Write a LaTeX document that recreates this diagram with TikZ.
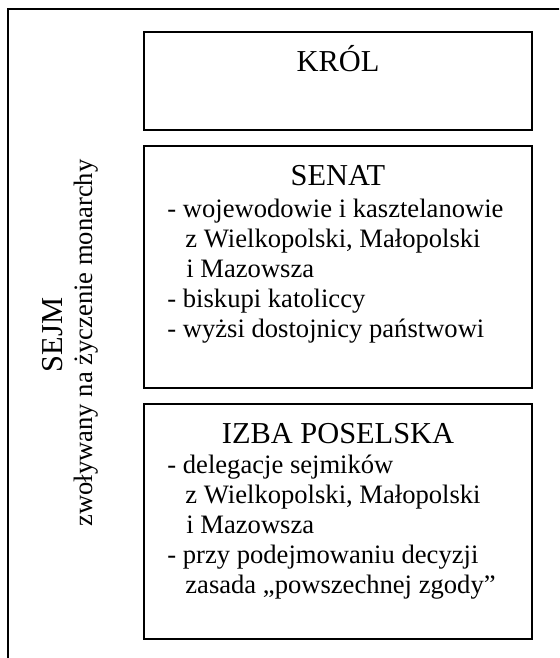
\documentclass[tikz,border=0pt]{standalone}
\usepackage{fontspec}
\setmainfont{Liberation Serif}
\usepackage{tikz}

\tikzset{
  box/.style={draw, line width=1pt},
  title/.style={anchor=base, inner sep=0pt, font=\fontsize{15.2}{18}\selectfont},
  item/.style={anchor=base west, inner sep=0pt, font=\fontsize{13.3}{15}\selectfont},
}

\begin{document}
\begin{tikzpicture}[x=0.5pt,y=-0.5pt]
\useasboundingbox (0,0) rectangle (559,658);
\clip (0,0) rectangle (559,658);

% outer frame
\draw[box] (8,9) rectangle (580,680);

% boxes
\draw[box] (144,32) rectangle (532,130);
\draw[box] (144,146) rectangle (532,388);
\draw[box] (144,404) rectangle (532,639);

% side text
\node[title,rotate=90] (sejm) at (62,335) {SEJM};
\node[anchor=base,inner sep=0pt,rotate=90,font=\fontsize{13.3}{15}\selectfont] (zwol) at (92,343) {zwoływany na życzenie monarchy};

\node[title] (krol) at (338,72) {KRÓL};

\node[title] (senat) at (338,185) {SENAT};
\node[item] (s1) at (167,217) {- wojewodowie i kasztelanowie};
\node[item] (s2) at (185,247) {z Wielkopolski, Małopolski};
\node[item] (s3) at (186,277) {i Mazowsza};
\node[item] (s4) at (167,307) {- biskupi katoliccy};
\node[item] (s5) at (167,337) {- wyżsi dostojnicy państwowi};

\node[title] (izba) at (338,443) {IZBA POSELSKA};
\node[item] (p1) at (167,473) {- delegacje sejmików};
\node[item] (p2) at (185,503) {z Wielkopolski, Małopolski};
\node[item] (p3) at (186,533) {i Mazowsza};
\node[item] (p4) at (167,563) {- przy podejmowaniu decyzji};
\node[item] (p5) at (185,593) {zasada „powszechnej zgody”};
\end{tikzpicture}
\end{document}
